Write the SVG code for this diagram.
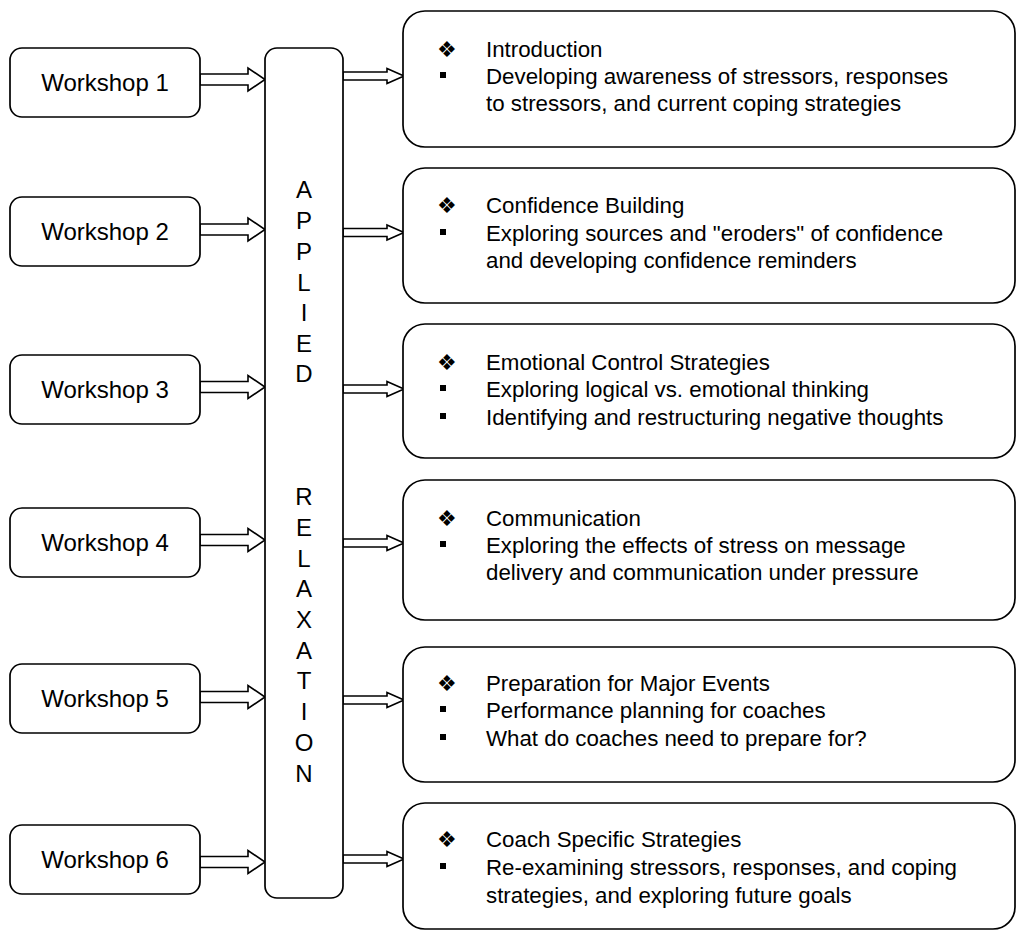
<svg xmlns="http://www.w3.org/2000/svg" width="1018" height="932" viewBox="0 0 1018 932">
<style>
.box{fill:#fff;stroke:#000;stroke-width:1.7}
.arr{fill:#fff;stroke:#000;stroke-width:1.6;stroke-linejoin:miter}
.ws{font-family:"Liberation Sans",Arial,sans-serif;font-size:24px;fill:#000;text-anchor:middle}
.mid{font-family:"Liberation Sans",Arial,sans-serif;font-size:24px;fill:#000;text-anchor:middle}
.t{font-family:"Liberation Sans",Arial,sans-serif;font-size:22.3px;fill:#000}
.dia{font-family:"DejaVu Sans",sans-serif;font-size:22px;fill:#000}
</style>
<rect width="1018" height="932" fill="#fff"/>
<g id="connectors">
<polygon class="arr" points="200,74 248,74 248,68 265,79.5 248,91 248,85 200,85"/>
<polygon class="arr" points="200,224 248,224 248,218 265,229.5 248,241 248,235 200,235"/>
<polygon class="arr" points="200,381.5 248,381.5 248,375.5 265,387 248,398.5 248,392.5 200,392.5"/>
<polygon class="arr" points="200,534.5 248,534.5 248,528.5 265,540 248,551.5 248,545.5 200,545.5"/>
<polygon class="arr" points="200,691.5 248,691.5 248,685.5 265,697 248,708.5 248,702.5 200,702.5"/>
<polygon class="arr" points="200,856.5 248,856.5 248,850.5 265,862 248,873.5 248,867.5 200,867.5"/>
<polygon class="arr" points="343,72 387,72 387,68.5 404,76 387,83.5 387,80 343,80"/>
<polygon class="arr" points="343,228.5 387,228.5 387,225 404,232.5 387,240 387,236.5 343,236.5"/>
<polygon class="arr" points="343,385 387,385 387,381.5 404,389 387,396.5 387,393 343,393"/>
<polygon class="arr" points="343,539 387,539 387,535.5 404,543 387,550.5 387,547 343,547"/>
<polygon class="arr" points="343,696 387,696 387,692.5 404,700 387,707.5 387,704 343,704"/>
<polygon class="arr" points="343,855 387,855 387,851.5 404,859 387,866.5 387,863 343,863"/>
</g>
<g id="ws1"><rect class="box" x="10" y="48" width="190" height="69" rx="12"/><text class="ws" x="105" y="91">Workshop 1</text></g>
<g id="ws2"><rect class="box" x="10" y="197" width="190" height="69" rx="12"/><text class="ws" x="105" y="240">Workshop 2</text></g>
<g id="ws3"><rect class="box" x="10" y="355" width="190" height="69" rx="12"/><text class="ws" x="105" y="398">Workshop 3</text></g>
<g id="ws4"><rect class="box" x="10" y="508" width="190" height="69" rx="12"/><text class="ws" x="105" y="551">Workshop 4</text></g>
<g id="ws5"><rect class="box" x="10" y="664" width="190" height="69" rx="12"/><text class="ws" x="105" y="707">Workshop 5</text></g>
<g id="ws6"><rect class="box" x="10" y="825" width="190" height="69" rx="12"/><text class="ws" x="105" y="868">Workshop 6</text></g>
<g id="applied-relaxation">
<rect class="box" x="265" y="48" width="78" height="850" rx="12"/>
<text class="mid" x="304" y="198">A</text>
<text class="mid" x="304" y="229">P</text>
<text class="mid" x="304" y="260">P</text>
<text class="mid" x="304" y="291">L</text>
<text class="mid" x="304" y="321">I</text>
<text class="mid" x="304" y="352">E</text>
<text class="mid" x="304" y="382">D</text>
<text class="mid" x="304" y="505">R</text>
<text class="mid" x="304" y="536">E</text>
<text class="mid" x="304" y="567">L</text>
<text class="mid" x="304" y="597">A</text>
<text class="mid" x="304" y="628">X</text>
<text class="mid" x="304" y="659">A</text>
<text class="mid" x="304" y="689">T</text>
<text class="mid" x="304" y="720">I</text>
<text class="mid" x="304" y="751">O</text>
<text class="mid" x="304" y="782">N</text>
</g>
<g id="content1">
<rect class="box" x="403" y="11" width="612" height="136" rx="22"/>
<text class="dia" x="437" y="57">❖</text><text class="t" x="486" y="57">Introduction</text>
<rect x="440" y="72" width="6" height="6"/><text class="t" x="486" y="84">Developing awareness of stressors, responses</text>
<text class="t" x="486" y="111">to stressors, and current coping strategies</text>
</g>
<g id="content2">
<rect class="box" x="403" y="168" width="612" height="135" rx="22"/>
<text class="dia" x="437" y="213">❖</text><text class="t" x="486" y="213">Confidence Building</text>
<rect x="440" y="229" width="6" height="6"/><text class="t" x="486" y="241">Exploring sources and "eroders" of confidence</text>
<text class="t" x="486" y="268">and developing confidence reminders</text>
</g>
<g id="content3">
<rect class="box" x="403" y="324" width="612" height="134" rx="22"/>
<text class="dia" x="437" y="370">❖</text><text class="t" x="486" y="370">Emotional Control Strategies</text>
<rect x="440" y="385" width="6" height="6"/><text class="t" x="486" y="397">Exploring logical vs. emotional thinking</text>
<rect x="440" y="413" width="6" height="6"/><text class="t" x="486" y="425">Identifying and restructuring negative thoughts</text>
</g>
<g id="content4">
<rect class="box" x="403" y="480" width="612" height="140" rx="22"/>
<text class="dia" x="437" y="526">❖</text><text class="t" x="486" y="526">Communication</text>
<rect x="440" y="541" width="6" height="6"/><text class="t" x="486" y="553">Exploring the effects of stress on message</text>
<text class="t" x="486" y="580">delivery and communication under pressure</text>
</g>
<g id="content5">
<rect class="box" x="403" y="647" width="612" height="135" rx="22"/>
<text class="dia" x="437" y="691">❖</text><text class="t" x="486" y="691">Preparation for Major Events</text>
<rect x="440" y="706" width="6" height="6"/><text class="t" x="486" y="718">Performance planning for coaches</text>
<rect x="440" y="734" width="6" height="6"/><text class="t" x="486" y="746">What do coaches need to prepare for?</text>
</g>
<g id="content6">
<rect class="box" x="403" y="803" width="612" height="126" rx="22"/>
<text class="dia" x="437" y="847">❖</text><text class="t" x="486" y="847">Coach Specific Strategies</text>
<rect x="440" y="863" width="6" height="6"/><text class="t" x="486" y="875">Re-examining stressors, responses, and coping</text>
<text class="t" x="486" y="903">strategies, and exploring future goals</text>
</g>
</svg>
